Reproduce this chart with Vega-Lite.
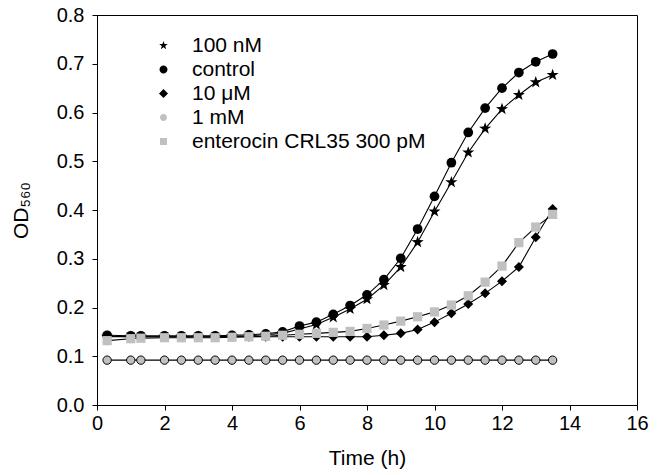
{
  "$schema": "https://vega.github.io/schema/vega-lite/v6.json",
  "width": 540,
  "height": 390,
  "padding": {"left": 97, "top": 15, "right": 26, "bottom": 70},
  "autosize": {"type": "none"},
  "background": "white",
  "config": {
    "view": {"stroke": "black", "strokeWidth": 1},
    "axis": {
      "grid": false, "domainColor": "black", "tickColor": "black", "tickSize": 5,
      "labelColor": "black", "labelFont": "Liberation Sans", "labelFontSize": 20,
      "titleColor": "black", "titleFont": "Liberation Sans", "titleFontSize": 21, "titleFontWeight": "normal"
    }
  },
  "data": {
    "values": [
      {"s": "100 nM", "t": 0.3, "od": 0.140}, {"s": "100 nM", "t": 1, "od": 0.140}, {"s": "100 nM", "t": 1.3, "od": 0.140}, {"s": "100 nM", "t": 2, "od": 0.140}, {"s": "100 nM", "t": 2.5, "od": 0.140}, {"s": "100 nM", "t": 3, "od": 0.140}, {"s": "100 nM", "t": 3.5, "od": 0.140}, {"s": "100 nM", "t": 4, "od": 0.141}, {"s": "100 nM", "t": 4.5, "od": 0.142}, {"s": "100 nM", "t": 5, "od": 0.144}, {"s": "100 nM", "t": 5.5, "od": 0.147}, {"s": "100 nM", "t": 6, "od": 0.156}, {"s": "100 nM", "t": 6.5, "od": 0.165}, {"s": "100 nM", "t": 7, "od": 0.180}, {"s": "100 nM", "t": 7.5, "od": 0.197}, {"s": "100 nM", "t": 8, "od": 0.217}, {"s": "100 nM", "t": 8.5, "od": 0.246}, {"s": "100 nM", "t": 9, "od": 0.283}, {"s": "100 nM", "t": 9.5, "od": 0.334}, {"s": "100 nM", "t": 10, "od": 0.397}, {"s": "100 nM", "t": 10.5, "od": 0.457}, {"s": "100 nM", "t": 11, "od": 0.518}, {"s": "100 nM", "t": 11.5, "od": 0.567}, {"s": "100 nM", "t": 12, "od": 0.607}, {"s": "100 nM", "t": 12.5, "od": 0.636}, {"s": "100 nM", "t": 13, "od": 0.662}, {"s": "100 nM", "t": 13.5, "od": 0.677},
      {"s": "control", "t": 0.3, "od": 0.143}, {"s": "control", "t": 1, "od": 0.142}, {"s": "control", "t": 1.3, "od": 0.142}, {"s": "control", "t": 2, "od": 0.142}, {"s": "control", "t": 2.5, "od": 0.142}, {"s": "control", "t": 3, "od": 0.142}, {"s": "control", "t": 3.5, "od": 0.142}, {"s": "control", "t": 4, "od": 0.143}, {"s": "control", "t": 4.5, "od": 0.144}, {"s": "control", "t": 5, "od": 0.146}, {"s": "control", "t": 5.5, "od": 0.150}, {"s": "control", "t": 6, "od": 0.162}, {"s": "control", "t": 6.5, "od": 0.170}, {"s": "control", "t": 7, "od": 0.186}, {"s": "control", "t": 7.5, "od": 0.204}, {"s": "control", "t": 8, "od": 0.226}, {"s": "control", "t": 8.5, "od": 0.257}, {"s": "control", "t": 9, "od": 0.301}, {"s": "control", "t": 9.5, "od": 0.361}, {"s": "control", "t": 10, "od": 0.428}, {"s": "control", "t": 10.5, "od": 0.497}, {"s": "control", "t": 11, "od": 0.559}, {"s": "control", "t": 11.5, "od": 0.609}, {"s": "control", "t": 12, "od": 0.650}, {"s": "control", "t": 12.5, "od": 0.682}, {"s": "control", "t": 13, "od": 0.704}, {"s": "control", "t": 13.5, "od": 0.720},
      {"s": "10 μM", "t": 0.3, "od": 0.141}, {"s": "10 μM", "t": 1, "od": 0.140}, {"s": "10 μM", "t": 1.3, "od": 0.140}, {"s": "10 μM", "t": 2, "od": 0.140}, {"s": "10 μM", "t": 2.5, "od": 0.140}, {"s": "10 μM", "t": 3, "od": 0.140}, {"s": "10 μM", "t": 3.5, "od": 0.140}, {"s": "10 μM", "t": 4, "od": 0.140}, {"s": "10 μM", "t": 4.5, "od": 0.140}, {"s": "10 μM", "t": 5, "od": 0.140}, {"s": "10 μM", "t": 5.5, "od": 0.140}, {"s": "10 μM", "t": 6, "od": 0.140}, {"s": "10 μM", "t": 6.5, "od": 0.140}, {"s": "10 μM", "t": 7, "od": 0.140}, {"s": "10 μM", "t": 7.5, "od": 0.140}, {"s": "10 μM", "t": 8, "od": 0.140}, {"s": "10 μM", "t": 8.5, "od": 0.143}, {"s": "10 μM", "t": 9, "od": 0.147}, {"s": "10 μM", "t": 9.5, "od": 0.155}, {"s": "10 μM", "t": 10, "od": 0.170}, {"s": "10 μM", "t": 10.5, "od": 0.188}, {"s": "10 μM", "t": 11, "od": 0.207}, {"s": "10 μM", "t": 11.5, "od": 0.229}, {"s": "10 μM", "t": 12, "od": 0.254}, {"s": "10 μM", "t": 12.5, "od": 0.283}, {"s": "10 μM", "t": 13, "od": 0.344}, {"s": "10 μM", "t": 13.5, "od": 0.402},
      {"s": "1 mM", "t": 0.3, "od": 0.092}, {"s": "1 mM", "t": 1, "od": 0.092}, {"s": "1 mM", "t": 1.3, "od": 0.092}, {"s": "1 mM", "t": 2, "od": 0.092}, {"s": "1 mM", "t": 2.5, "od": 0.092}, {"s": "1 mM", "t": 3, "od": 0.092}, {"s": "1 mM", "t": 3.5, "od": 0.092}, {"s": "1 mM", "t": 4, "od": 0.092}, {"s": "1 mM", "t": 4.5, "od": 0.092}, {"s": "1 mM", "t": 5, "od": 0.092}, {"s": "1 mM", "t": 5.5, "od": 0.092}, {"s": "1 mM", "t": 6, "od": 0.092}, {"s": "1 mM", "t": 6.5, "od": 0.092}, {"s": "1 mM", "t": 7, "od": 0.092}, {"s": "1 mM", "t": 7.5, "od": 0.092}, {"s": "1 mM", "t": 8, "od": 0.092}, {"s": "1 mM", "t": 8.5, "od": 0.092}, {"s": "1 mM", "t": 9, "od": 0.092}, {"s": "1 mM", "t": 9.5, "od": 0.092}, {"s": "1 mM", "t": 10, "od": 0.092}, {"s": "1 mM", "t": 10.5, "od": 0.092}, {"s": "1 mM", "t": 11, "od": 0.092}, {"s": "1 mM", "t": 11.5, "od": 0.092}, {"s": "1 mM", "t": 12, "od": 0.092}, {"s": "1 mM", "t": 12.5, "od": 0.092}, {"s": "1 mM", "t": 13, "od": 0.092}, {"s": "1 mM", "t": 13.5, "od": 0.092},
      {"s": "enterocin CRL35 300 pM", "t": 0.3, "od": 0.132}, {"s": "enterocin CRL35 300 pM", "t": 1, "od": 0.136}, {"s": "enterocin CRL35 300 pM", "t": 1.3, "od": 0.137}, {"s": "enterocin CRL35 300 pM", "t": 2, "od": 0.138}, {"s": "enterocin CRL35 300 pM", "t": 2.5, "od": 0.138}, {"s": "enterocin CRL35 300 pM", "t": 3, "od": 0.138}, {"s": "enterocin CRL35 300 pM", "t": 3.5, "od": 0.138}, {"s": "enterocin CRL35 300 pM", "t": 4, "od": 0.139}, {"s": "enterocin CRL35 300 pM", "t": 4.5, "od": 0.140}, {"s": "enterocin CRL35 300 pM", "t": 5, "od": 0.141}, {"s": "enterocin CRL35 300 pM", "t": 5.5, "od": 0.143}, {"s": "enterocin CRL35 300 pM", "t": 6, "od": 0.145}, {"s": "enterocin CRL35 300 pM", "t": 6.5, "od": 0.147}, {"s": "enterocin CRL35 300 pM", "t": 7, "od": 0.149}, {"s": "enterocin CRL35 300 pM", "t": 7.5, "od": 0.151}, {"s": "enterocin CRL35 300 pM", "t": 8, "od": 0.157}, {"s": "enterocin CRL35 300 pM", "t": 8.5, "od": 0.164}, {"s": "enterocin CRL35 300 pM", "t": 9, "od": 0.172}, {"s": "enterocin CRL35 300 pM", "t": 9.5, "od": 0.181}, {"s": "enterocin CRL35 300 pM", "t": 10, "od": 0.191}, {"s": "enterocin CRL35 300 pM", "t": 10.5, "od": 0.205}, {"s": "enterocin CRL35 300 pM", "t": 11, "od": 0.224}, {"s": "enterocin CRL35 300 pM", "t": 11.5, "od": 0.252}, {"s": "enterocin CRL35 300 pM", "t": 12, "od": 0.285}, {"s": "enterocin CRL35 300 pM", "t": 12.5, "od": 0.333}, {"s": "enterocin CRL35 300 pM", "t": 13, "od": 0.365}, {"s": "enterocin CRL35 300 pM", "t": 13.5, "od": 0.391}
    ]
  },
  "layer": [
    {
      "mark": {"type": "line", "color": "black", "strokeWidth": 1.1},
      "encoding": {
        "x": {"field": "t", "type": "quantitative", "scale": {"domain": [0, 16], "nice": false},
              "axis": {"title": "Time (h)", "values": [0, 2, 4, 6, 8, 10, 12, 14, 16], "labelPadding": 3, "titlePadding": 14, "labelFlush": false}},
        "y": {"field": "od", "type": "quantitative", "scale": {"domain": [0, 0.8], "nice": false},
              "axis": {"title": "OD₅₆₀", "format": ".1f", "values": [0, 0.1, 0.2, 0.3, 0.4, 0.5, 0.6, 0.7, 0.8], "labelPadding": 8, "titlePadding": 25, "labelFlush": false}},
        "detail": {"field": "s", "type": "nominal"}
      }
    },
    {
      "transform": [{"filter": "datum.s === '100 nM'"}],
      "mark": {"type": "point", "filled": true, "opacity": 1, "size": 95, "color": "black", "shape": "M0,-1.3L0.306,-0.421L1.236,-0.402L0.494,0.161L0.764,1.052L0,0.52L-0.764,1.052L-0.494,0.161L-1.236,-0.402L-0.306,-0.421Z"},
      "encoding": {
        "x": {"field": "t", "type": "quantitative"},
        "y": {"field": "od", "type": "quantitative"}
      }
    },
    {
      "transform": [{"filter": "datum.s === 'control'"}],
      "mark": {"type": "point", "filled": true, "opacity": 1, "size": 95, "color": "black", "shape": "circle"},
      "encoding": {
        "x": {"field": "t", "type": "quantitative"},
        "y": {"field": "od", "type": "quantitative"}
      }
    },
    {
      "transform": [{"filter": "datum.s === '10 μM'"}],
      "mark": {"type": "point", "filled": true, "opacity": 1, "size": 100, "color": "black", "shape": "diamond"},
      "encoding": {
        "x": {"field": "t", "type": "quantitative"},
        "y": {"field": "od", "type": "quantitative"}
      }
    },
    {
      "transform": [{"filter": "datum.s === 'enterocin CRL35 300 pM'"}],
      "mark": {"type": "point", "shape": "square", "filled": true, "color": "#c0c0c0", "opacity": 1, "size": 85},
      "encoding": {
        "x": {"field": "t", "type": "quantitative"},
        "y": {"field": "od", "type": "quantitative"}
      }
    },
    {
      "transform": [{"filter": "datum.s === '1 mM'"}],
      "mark": {"type": "point", "shape": "circle", "filled": true, "fill": "#c0c0c0", "stroke": "black", "strokeWidth": 1, "opacity": 1, "size": 70},
      "encoding": {
        "x": {"field": "t", "type": "quantitative"},
        "y": {"field": "od", "type": "quantitative"}
      }
    },
    {
      "transform": [{"filter": "datum.t < 0"}],
      "mark": {"type": "point", "filled": true, "opacity": 1},
      "encoding": {
        "x": {"field": "t", "type": "quantitative"},
        "y": {"field": "od", "type": "quantitative"},
        "shape": {
          "field": "s", "type": "nominal",
          "scale": {"domain": ["100 nM", "control", "10 μM", "1 mM", "enterocin CRL35 300 pM"],
                    "range": [
                      "M-3.5,0H-0.8M0.8,0H3.5M0,-0.9L0.212,-0.292L0.856,-0.278L0.342,0.112L0.529,0.728L0,0.36L-0.529,0.728L-0.342,0.112L-0.856,-0.278L-0.212,-0.292Z",
                      "M-3.5,0H-0.8M0.8,0H3.5M-0.8,0A0.8,0.8 0 1,1 0.8,0A0.8,0.8 0 1,1 -0.8,0Z",
                      "M-3.5,0H-0.9M0.9,0H3.5M-0.9,0L0,-0.9L0.9,0L0,0.9Z",
                      "M-3.5,0H-0.7M0.7,0H3.5M-0.7,0A0.7,0.7 0 1,1 0.7,0A0.7,0.7 0 1,1 -0.7,0Z",
                      "M-3.5,0H-0.7M0.7,0H3.5M-0.7,-0.7H0.7V0.7H-0.7Z"
                    ]},
          "legend": {
            "title": null, "orient": "none", "legendX": 56, "legendY": 20, "padding": 0,
            "symbolSize": 100, "symbolStrokeColor": "black", "symbolStrokeWidth": 1, "symbolOpacity": 1,
            "labelOffset": 18, "labelFontSize": 21, "labelFont": "Liberation Sans", "labelColor": "black", "labelLimit": 400,
            "rowPadding": 2
          }
        },
        "color": {
          "field": "s", "type": "nominal",
          "scale": {"domain": ["100 nM", "control", "10 μM", "1 mM", "enterocin CRL35 300 pM"], "range": ["black", "black", "black", "#c0c0c0", "#c0c0c0"]},
          "legend": {
            "title": null, "orient": "none", "legendX": 56, "legendY": 20, "padding": 0,
            "symbolSize": 100, "symbolStrokeColor": "black", "symbolStrokeWidth": 1, "symbolOpacity": 1,
            "labelOffset": 18, "labelFontSize": 21, "labelFont": "Liberation Sans", "labelColor": "black", "labelLimit": 400,
            "rowPadding": 2
          }
        }
      }
    }
  ]
}
